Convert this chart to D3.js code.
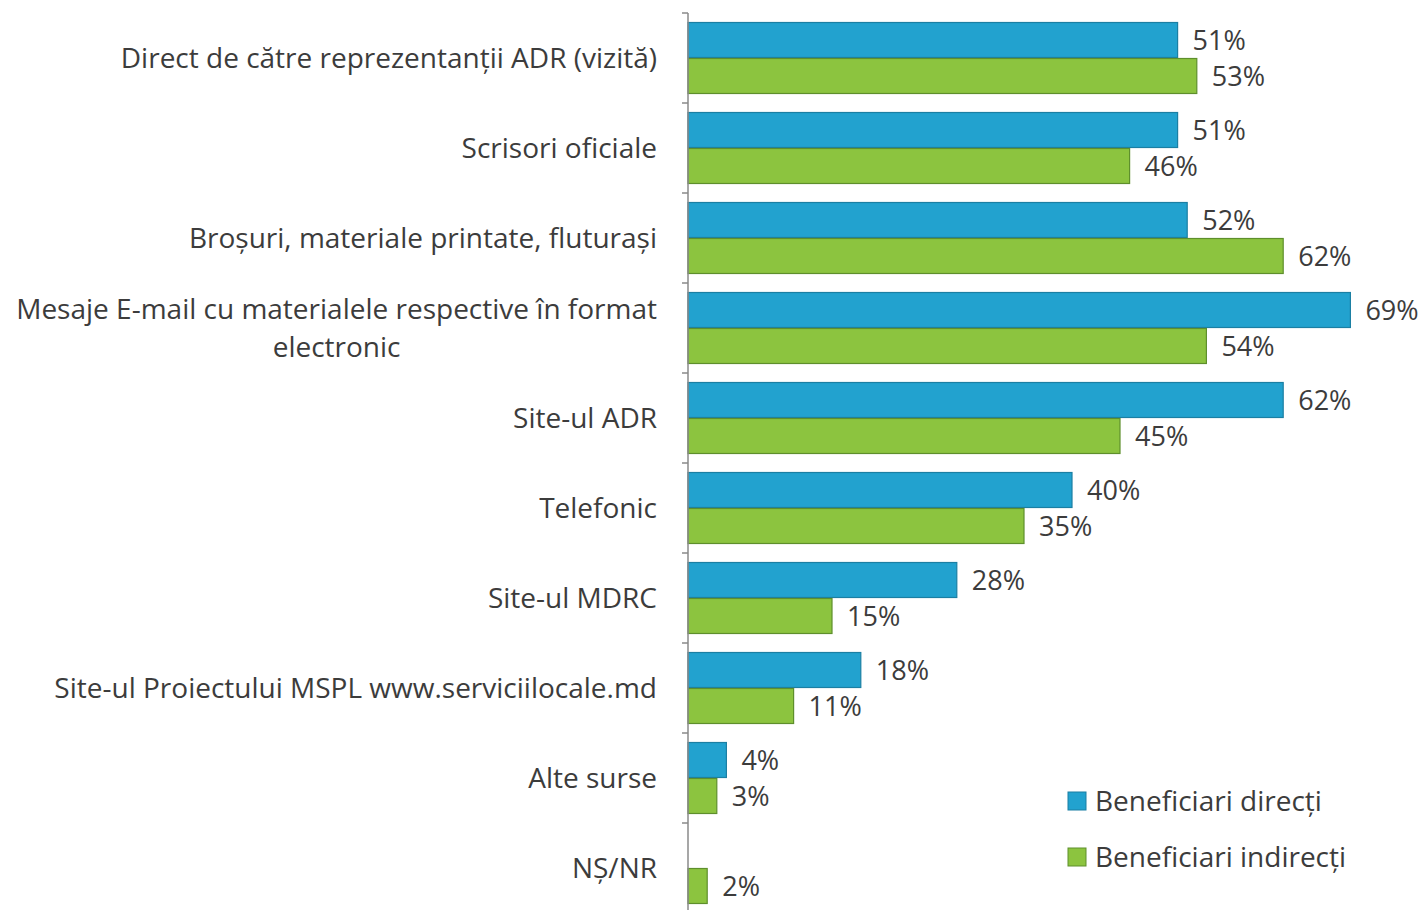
<!DOCTYPE html>
<html>
<head>
<meta charset="utf-8">
<script src="https://cdn.jsdelivr.net/npm/d3@7"></script>
<style>
  html, body { margin: 0; padding: 0; background: #ffffff; }
  svg { display: block; }
  text { font-family: "Open Sans", "Noto Sans", sans-serif; fill: #3c3c3c; }
</style>
</head>
<body>
<svg id="chart" width="1424" height="910"></svg>
<script>
// Sources of information about the programme, % of respondents
const categories = [
  ["Direct de către reprezentanții ADR (vizită)"],
  ["Scrisori oficiale"],
  ["Broșuri, materiale printate, fluturași"],
  ["Mesaje E-mail cu materialele respective în format", "electronic"],
  ["Site-ul ADR"],
  ["Telefonic"],
  ["Site-ul MDRC"],
  ["Site-ul Proiectului MSPL www.serviciilocale.md"],
  ["Alte surse"],
  ["NȘ/NR"]
];
const directValues   = [51, 51, 52, 69, 62, 40, 28, 18, 4, null];
const indirectValues = [53, 46, 62, 54, 45, 35, 15, 11, 3, 2];
const seriesNames = ["Beneficiari direcți", "Beneficiari indirecți"];
const seriesFill   = ["#22a2cf", "#8cc43f"];
const seriesStroke = ["#1b7fa3", "#5e8f2c"];

const svg = d3.select("#chart");
const axisX = 688;
const labelSize = 28;
const valueSize = 27;

const keys = categories.map((c, i) => i);
const y = d3.scaleBand().domain(keys).range([13, 913]).paddingInner(0).paddingOuter(0);
const ySeries = d3.scaleBand().domain([0, 1]).range([0, y.bandwidth()]).paddingInner(0).paddingOuter(0.25);
const x = d3.scaleLinear().domain([0, 69]).range([axisX, axisX + 662.4]);

const rows = keys.map(i => ({
  i,
  label: categories[i],
  values: [directValues[i], indirectValues[i]]
}));

// bars and value labels
const group = svg.selectAll("g.cat").data(rows).join("g")
  .attr("class", "cat")
  .attr("transform", d => `translate(0,${y(d.i)})`);

const cells = group.selectAll("g.bar")
  .data(d => d.values.map((v, s) => ({ v, s })).filter(e => e.v !== null))
  .join("g").attr("class", "bar");

cells.append("rect")
  .attr("x", x(0))
  .attr("y", d => ySeries(d.s) + 0.5)
  .attr("width", d => x(d.v) - x(0))
  .attr("height", ySeries.bandwidth() - 1)
  .attr("fill", d => seriesFill[d.s])
  .attr("stroke", d => seriesStroke[d.s])
  .attr("stroke-width", 1.2);

cells.append("text")
  .attr("x", d => x(d.v) + 15)
  .attr("y", d => ySeries(d.s) + ySeries.bandwidth() / 2)
  .attr("dy", "0.38em")
  .attr("font-size", valueSize)
  .text(d => d.v + "%");

// category axis with ticks at the group boundaries
const axisG = svg.append("g");
axisG.append("line")
  .attr("x1", axisX).attr("x2", axisX)
  .attr("y1", y.range()[0]).attr("y2", y.range()[1])
  .attr("stroke", "#8a8a8a").attr("stroke-width", 1.5);
axisG.selectAll("line.tick")
  .data(keys.concat([keys.length]))
  .join("line").attr("class", "tick")
  .attr("x1", axisX - 6).attr("x2", axisX)
  .attr("y1", d => d < keys.length ? y(d) : y.range()[1])
  .attr("y2", d => d < keys.length ? y(d) : y.range()[1])
  .attr("stroke", "#8a8a8a").attr("stroke-width", 1.5);

const lineGap = 38;
group.append("text")
  .attr("class", "cat-label")
  .attr("text-anchor", "middle")
  .attr("font-size", labelSize)
  .each(function(d) {
    const t = d3.select(this);
    const n = d.label.length;
    d.label.forEach((line, k) => {
      t.append("tspan")
        .attr("y", y.bandwidth() / 2 + (k - (n - 1) / 2) * lineGap)
        .attr("dy", "0.35em")
        .text(line);
    });
  });
// right-align each block on the axis side, wrapped lines centred under the widest one
group.select("text.cat-label").each(function() {
  const spans = d3.select(this).selectAll("tspan").nodes();
  const widest = d3.max(spans, s => s.getComputedTextLength());
  const cx = 657 - widest / 2;
  spans.forEach(s => d3.select(s).attr("x", cx));
});

// legend
const legend = svg.append("g").attr("transform", "translate(1068,0)");
const legendY = [801, 857];
seriesNames.forEach((name, s) => {
  legend.append("rect")
    .attr("x", 0).attr("y", legendY[s] - 9)
    .attr("width", 18).attr("height", 18)
    .attr("fill", seriesFill[s])
    .attr("stroke", seriesStroke[s]).attr("stroke-width", 1);
  legend.append("text")
    .attr("x", 27).attr("y", legendY[s])
    .attr("dy", "0.35em")
    .attr("font-size", labelSize)
    .text(name);
});
</script>
</body>
</html>
